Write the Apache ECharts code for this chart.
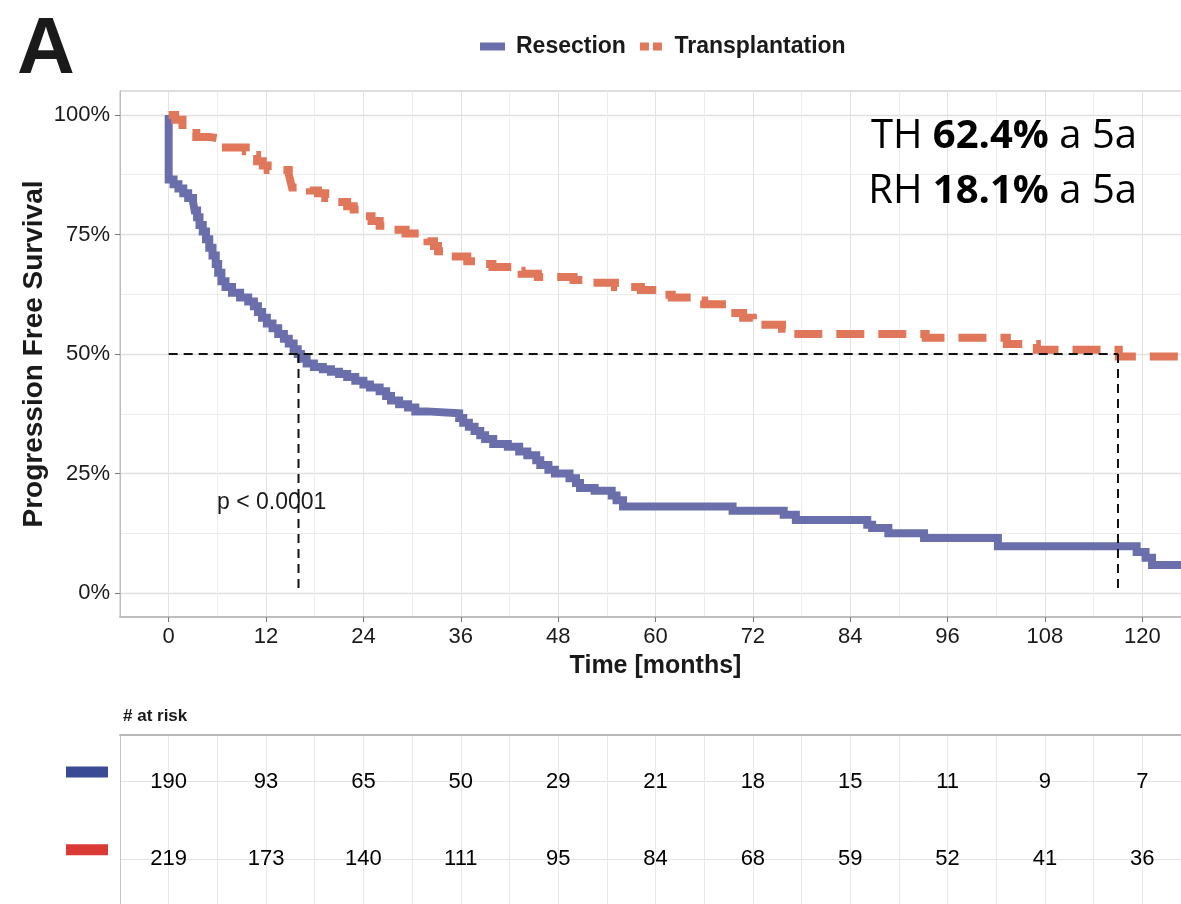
<!DOCTYPE html>
<html>
<head>
<meta charset="utf-8">
<script src="https://cdn.jsdelivr.net/npm/echarts@6/dist/echarts.min.js"></script>
<style>html,body{margin:0;padding:0;background:#fff}#c{width:1181px;height:904px}</style>
</head>
<body>
<div id="c"></div>
<script>
// ---- data ----
const resectionT = [0, 0, 0.6, 1.2, 1.8, 2.4, 3.0, 3.2, 3.5, 3.8, 4.2, 4.6, 5.0, 5.4, 5.8, 6.1, 6.5, 7.0, 7.8, 8.8, 9.8, 10.5, 11.0, 11.5, 12.1, 12.8, 13.5, 14.2, 14.8, 15.4, 15.9, 16.3, 17.0, 17.9, 19.0, 20.0, 21.0, 22.0, 23.0, 24.0, 24.8, 26.0, 26.8, 27.4, 28.4, 29.5, 30.4, 31.8, 35.8, 36.3, 37.0, 37.7, 38.4, 39.0, 40.0, 41.8, 43.2, 44.2, 45.3, 45.8, 46.8, 47.6, 49.4, 50.2, 50.7, 52.5, 54.6, 55.2, 56.0, 69.5, 75.8, 77.3, 86.1, 86.7, 88.7, 93.1, 102.2, 119.3, 120.4, 121.2, 126];
const resectionS = [100, 86.5, 85.5, 84.6, 83.6, 82.6, 81.8, 80.0, 78.6, 77.0, 75.6, 74.0, 72.2, 70.6, 68.8, 67.0, 65.2, 64.0, 62.8, 61.8, 61.0, 60.0, 58.8, 57.6, 56.4, 55.4, 54.2, 53.2, 52.2, 51.0, 50.0, 49.0, 48.0, 47.3, 46.8, 46.3, 45.8, 45.2, 44.4, 43.6, 43.0, 42.2, 41.2, 40.3, 39.5, 38.8, 38.0, 37.6, 36.6, 35.6, 34.8, 33.9, 33.0, 32.2, 31.2, 30.6, 29.6, 28.8, 27.8, 26.8, 25.8, 25.0, 24.0, 23.0, 22.0, 21.4, 20.4, 19.4, 18.1, 17.2, 16.4, 15.3, 14.3, 13.6, 12.5, 11.5, 9.8, 8.6, 7.4, 5.9, 5.9];

const transplantT = [0, 0.8, 1.7, 2.6, 3.4, 5.0, 6.5, 9.5, 10.4, 10.9, 11.6, 12.2, 14.8, 15.0, 15.2, 17.4, 18.4, 19.3, 20.0, 22.0, 22.8, 24.0, 25.0, 26.0, 27.5, 29.2, 31.9, 32.7, 33.2, 34.6, 36.8, 38.4, 39.9, 42.6, 43.5, 45.5, 49.9, 51.0, 55.0, 58.2, 60.2, 62.0, 64.8, 66.0, 69.0, 70.8, 72.0, 75.6, 76.3, 93.3, 103.3, 107.0, 117.1, 124.4, 126];
const transplantS = [100, 99.0, 97.0, 96.2, 95.4, 95.0, 93.2, 92.4, 91.6, 90.3, 89.4, 88.5, 87.6, 86.2, 84.8, 84.2, 83.6, 82.6, 81.8, 80.9, 80.2, 78.8, 77.8, 76.8, 76.0, 75.2, 73.6, 72.6, 71.5, 70.4, 69.4, 68.8, 68.2, 67.4, 66.8, 66.1, 65.5, 64.9, 64.0, 63.4, 62.4, 61.8, 61.2, 60.4, 58.6, 57.6, 56.1, 55.3, 54.2, 53.4, 52.1, 50.9, 49.5, 48.0, 48.0];

const medianResection = 16;
const medianTransplant = 117;

const xTicks = [0, 12, 24, 36, 48, 60, 72, 84, 96, 108, 120];
const xMinor = [6, 18, 30, 42, 54, 66, 78, 90, 102, 114];
const yTicks = [0, 25, 50, 75, 100];
const yMinor = [12.5, 37.5, 62.5, 87.5];

const riskTimes = [0, 12, 24, 36, 48, 60, 72, 84, 96, 108, 120];
const riskResection = [190, 93, 65, 50, 29, 21, 18, 15, 11, 9, 7];
const riskTransplant = [219, 173, 140, 111, 95, 84, 68, 59, 52, 41, 36];
const riskRows = [0, 1];

const fiveYearGroups = ['TH', 'RH'];
const fiveYearValues = ['62.4%', '18.1%'];
const pValueText = 'p < 0.0001';

// ---- styling ----
const FONT = '"Liberation Sans", Arial, Helvetica, sans-serif';
const CAL = '"Open Sans", "Noto Sans", sans-serif';
const TXT = '#1a1a1a';
const BLUE = '#6a6fab';
const ORANGE = '#e0765a';

const chart = echarts.init(document.getElementById('c'), null, {renderer: 'canvas'});

function fiveYearTitle(i, top) {
  return {
    text: '{n|' + fiveYearGroups[i] + ' }{b|' + fiveYearValues[i] + '}{n| a 5a}',
    right: 39, top: top,
    textStyle: {
      fontWeight: 'normal',
      rich: {
        n: {fontFamily: CAL, fontSize: 40, fontWeight: 'normal', color: '#000'},
        b: {fontFamily: CAL, fontSize: 40, fontWeight: 'bold', color: '#000'}
      }
    }
  };
}

const riskLabel = {show: true, position: 'inside', formatter: p => String(p.value[2]), fontFamily: FONT, fontSize: 22, color: '#000', opacity: 1};

const option = {
  animation: false,
  backgroundColor: '#fff',
  title: [
    {text: 'A', left: 12, top: 6, textStyle: {fontFamily: FONT, fontWeight: 'bold', fontSize: 80, color: TXT}},
    fiveYearTitle(0, 112),
    fiveYearTitle(1, 167),
    {text: pValueText, left: 212, top: 486, textStyle: {fontFamily: FONT, fontSize: 23, fontWeight: 'normal', color: TXT}},
    {text: '# at risk', left: 118, top: 703, textStyle: {fontFamily: FONT, fontWeight: 'bold', fontSize: 17, color: TXT}}
  ],
  legend: {
    left: 475, top: 30, itemWidth: 25, itemHeight: 8, itemGap: 14,
    data: [
      {name: 'Resection', icon: 'rect', itemStyle: {color: BLUE, borderWidth: 0}},
      {name: 'Transplantation', icon: 'path://M0,0H9V8H0Z M13,0H22V8H13Z', itemStyle: {color: ORANGE, borderWidth: 0}}
    ],
    textStyle: {fontFamily: FONT, fontWeight: 'bold', fontSize: 23, color: TXT, padding: [0, 0, 0, 6]}
  },
  grid: [
    {left: 120, top: 91, right: -10, height: 526, show: true, borderColor: '#bdbdbd', borderWidth: 1, containLabel: false, outerBoundsMode: 'none'},
    {left: 120, top: 735, right: -10, height: 169, containLabel: false, outerBoundsMode: 'none'}
  ],
  xAxis: [
    {
      gridIndex: 0, type: 'value', min: -6, max: 126,
      name: 'Time [months]', nameLocation: 'middle', nameGap: 37, nameMoveOverlap: false,
      nameTextStyle: {fontFamily: FONT, fontWeight: 'bold', fontSize: 25, color: TXT},
      axisLine: {show: true, onZero: false, lineStyle: {color: '#bdbdbd', width: 2}},
      axisTick: {show: true, customValues: xTicks, length: 5, lineStyle: {color: '#777'}},
      axisLabel: {customValues: xTicks, margin: 9, fontFamily: FONT, fontSize: 22, color: TXT},
      splitLine: {show: true, lineStyle: {color: '#e3e3e3', width: 1}}
    },
    {
      gridIndex: 0, type: 'value', min: -6, max: 126,
      axisLine: {show: false}, axisTick: {show: false, customValues: xMinor},
      axisLabel: {show: false}, splitLine: {show: true, lineStyle: {color: '#ededed', width: 1}}
    },
    {
      gridIndex: 1, type: 'value', min: -6, max: 126, interval: 6, position: 'top',
      axisLine: {show: true, onZero: false, lineStyle: {color: '#b8b8b8', width: 2}},
      axisTick: {show: false}, axisLabel: {show: false},
      splitLine: {show: true, lineStyle: {color: '#e8e8e8', width: 1}}
    }
  ],
  yAxis: [
    {
      gridIndex: 0, type: 'value', min: -5, max: 105,
      name: 'Progression Free Survival', nameLocation: 'middle', nameGap: 72, nameRotate: 90, nameMoveOverlap: false,
      nameTextStyle: {fontFamily: FONT, fontWeight: 'bold', fontSize: 28, color: TXT},
      axisLine: {show: true, onZero: false, lineStyle: {color: '#bdbdbd', width: 1}},
      axisTick: {show: true, customValues: yTicks, length: 5, lineStyle: {color: '#777'}},
      axisLabel: {customValues: yTicks, formatter: '{value}%', margin: 10, fontFamily: FONT, fontSize: 22, color: TXT},
      splitLine: {show: true, lineStyle: {color: '#e0e0e0', width: 1.3}}
    },
    {
      gridIndex: 0, type: 'value', min: -5, max: 105,
      axisLine: {show: false}, axisTick: {show: false, customValues: yMinor},
      axisLabel: {show: false}, splitLine: {show: true, lineStyle: {color: '#ededed', width: 1}}
    },
    {
      gridIndex: 1, type: 'value', min: -0.6, max: 1.575, inverse: true,
      axisLine: {show: true, onZero: false, lineStyle: {color: '#c4c4c4', width: 1}},
      axisTick: {show: false, customValues: riskRows},
      axisLabel: {
        customValues: riskRows, margin: 12, padding: [0, 0, 19, 0],
        formatter: function (v) { return v === 0 ? '{b|}' : '{r|}'; },
        rich: {
          b: {width: 42, height: 11, backgroundColor: '#3b4a95'},
          r: {width: 42, height: 11, backgroundColor: '#d93a33'}
        }
      },
      splitLine: {show: true, lineStyle: {color: '#e3e3e3', width: 1}}
    }
  ],
  series: [
    {
      type: 'line', name: 'Resection', xAxisIndex: 0, yAxisIndex: 0,
      data: resectionT.map((t, i) => [t, resectionS[i]]),
      step: 'end', symbol: 'none', showSymbol: false,
      lineStyle: {color: BLUE, width: 8, cap: 'butt', join: 'miter'},
      itemStyle: {color: BLUE}, z: 3, silent: true
    },
    {
      type: 'line', name: 'Transplantation', xAxisIndex: 0, yAxisIndex: 0,
      data: transplantT.map((t, i) => [t, transplantS[i]]),
      step: 'end', symbol: 'none', showSymbol: false,
      lineStyle: {color: ORANGE, width: 8, type: [28, 14], cap: 'butt', join: 'miter'},
      itemStyle: {color: ORANGE}, z: 4, silent: true
    },
    {
      type: 'line', name: 'median50', xAxisIndex: 0, yAxisIndex: 0,
      data: [[0, 50], [medianTransplant, 50]], symbol: 'none',
      lineStyle: {color: '#111', width: 2, type: [9, 6]}, z: 6, silent: true
    },
    {
      type: 'line', name: 'medianR', xAxisIndex: 0, yAxisIndex: 0,
      data: [[medianResection, 50], [medianResection, 0]], symbol: 'none',
      lineStyle: {color: '#111', width: 2, type: [9, 6]}, z: 6, silent: true
    },
    {
      type: 'line', name: 'medianT', xAxisIndex: 0, yAxisIndex: 0,
      data: [[medianTransplant, 50], [medianTransplant, 0]], symbol: 'none',
      lineStyle: {color: '#111', width: 2, type: [9, 6]}, z: 6, silent: true
    },
    {
      type: 'scatter', name: 'riskR', xAxisIndex: 2, yAxisIndex: 2,
      data: riskTimes.map((t, i) => [t, riskRows[0], riskResection[i]]),
      symbolSize: 1, itemStyle: {color: 'rgba(0,0,0,0)', opacity: 1}, silent: true,
      label: riskLabel
    },
    {
      type: 'scatter', name: 'riskT', xAxisIndex: 2, yAxisIndex: 2,
      data: riskTimes.map((t, i) => [t, riskRows[1], riskTransplant[i]]),
      symbolSize: 1, itemStyle: {color: 'rgba(0,0,0,0)', opacity: 1}, silent: true,
      label: riskLabel
    }
  ]
};
chart.setOption(option);
</script>
</body>
</html>
